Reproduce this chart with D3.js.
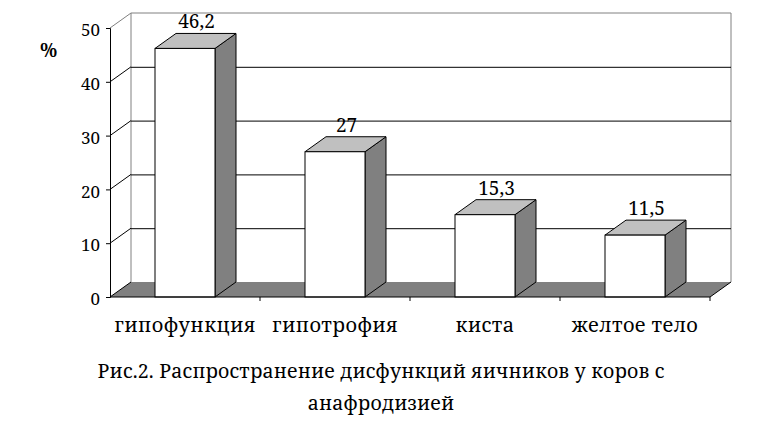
<!DOCTYPE html>
<html>
<head>
<meta charset="utf-8">
<script src="https://cdn.jsdelivr.net/npm/d3@7"></script>
<style>
  html, body { margin: 0; padding: 0; background: #ffffff; }
  svg { display: block; }
</style>
</head>
<body>
<svg id="chart" width="770" height="430"></svg>
<script>
// ---- data ----
const categories = ["гипофункция", "гипотрофия", "киста", "желтое тело"];
const values = [46.2, 27, 15.3, 11.5];
const yTicks = [0, 10, 20, 30, 40, 50];
const yLabel = "%";
const captionLines = ["Рис.2. Распространение дисфункций яичников у коров с", "анафродизией"];

// ---- layout ----
const FONT = "'Noto Serif', 'DejaVu Serif', serif";
const svg = d3.select("#chart");
const x0 = 110, x1 = 710;          // front plane horizontal extent
const yBottom = 297, yTop = 28;    // front plane vertical extent
const dx = 21, dy = -15;           // 3D depth offset

const x = d3.scaleBand().domain(categories).range([x0, x1])
  .paddingInner(0.6).paddingOuter(0.3);
const xCat = d3.scaleBand().domain(categories).range([x0, x1]).padding(0);
const y = d3.scaleLinear().domain([0, 50]).range([yBottom, yTop]);
const fmt = v => String(v).replace(".", ",");

const grey = "#808080", light = "#c0c0c0";

// back wall
const wall = svg.append("g");
wall.append("rect")
  .attr("x", x0 + dx).attr("y", y(50) + dy)
  .attr("width", x1 - x0).attr("height", y(0) - y(50))
  .attr("fill", "#fff");
wall.append("path")
  .attr("d", `M${x0 + dx},${y(0) + dy}V${y(50) + dy}H${x1 + dx}V${y(0) + dy}`)
  .attr("fill", "none").attr("stroke", grey).attr("stroke-width", 1);
wall.append("line")
  .attr("x1", x0).attr("y1", y(50)).attr("x2", x0 + dx).attr("y2", y(50) + dy)
  .attr("stroke", grey);

// gridlines (back wall + left wall diagonals)
const gridTicks = yTicks.filter(t => t > 0 && t < 50);
wall.selectAll(".gback").data(gridTicks).join("line")
  .attr("class", "gback")
  .attr("x1", x0 + dx).attr("x2", x1 + dx)
  .attr("y1", d => y(d) + dy + 0.5).attr("y2", d => y(d) + dy + 0.5)
  .attr("stroke", "#000");
wall.selectAll(".gside").data(gridTicks).join("line")
  .attr("class", "gside")
  .attr("x1", x0).attr("y1", d => y(d))
  .attr("x2", x0 + dx).attr("y2", d => y(d) + dy)
  .attr("stroke", "#000");

// floor
svg.append("path")
  .attr("d", `M${x0},${y(0)}L${x1},${y(0)}L${x1 + dx},${y(0) + dy}L${x0 + dx},${y(0) + dy}Z`)
  .attr("fill", grey).attr("stroke", "none");
svg.append("line")
  .attr("x1", x0).attr("y1", y(0)).attr("x2", x0 + dx).attr("y2", y(0) + dy)
  .attr("stroke", "#000");
svg.append("line")
  .attr("x1", x1).attr("y1", y(0)).attr("x2", x1 + dx).attr("y2", y(0) + dy)
  .attr("stroke", "#000");

// bars
const data = categories.map((c, i) => ({ c, v: values[i] }));
const bars = svg.selectAll(".bar").data(data).join("g").attr("class", "bar");
const bw = x.bandwidth();
bars.append("path") // side face
  .attr("d", d => {
    const bx = x(d.c) + bw, t = y(d.v), b = y(0);
    return `M${bx},${t}L${bx + dx},${t + dy}L${bx + dx},${b + dy}L${bx},${b}Z`;
  })
  .attr("fill", grey).attr("stroke", "#000").attr("stroke-linejoin", "round");
bars.append("path") // top face
  .attr("d", d => {
    const bx = x(d.c), t = y(d.v);
    return `M${bx},${t}L${bx + dx},${t + dy}L${bx + bw + dx},${t + dy}L${bx + bw},${t}Z`;
  })
  .attr("fill", light).attr("stroke", "#000").attr("stroke-linejoin", "round");
bars.append("rect") // front face
  .attr("x", d => x(d.c)).attr("y", d => y(d.v))
  .attr("width", bw).attr("height", d => y(0) - y(d.v))
  .attr("fill", "#fff").attr("stroke", "#000");

// y axis
const yAxis = svg.append("g")
  .attr("transform", `translate(${x0},0)`)
  .call(d3.axisLeft(y).tickValues(yTicks).tickSize(4).tickPadding(6).tickFormat(d3.format("d")));
yAxis.attr("font-family", null).attr("font-size", null);
yAxis.select(".domain").attr("stroke", "#000");
yAxis.selectAll(".tick line").attr("stroke", "#000");
yAxis.selectAll(".tick text")
  .style("font-family", FONT).style("font-size", "17px")
  .attr("dy", "0.45em").attr("fill", "#000");

// x axis (front floor edge with category boundary ticks)
const xAxis = svg.append("g")
  .attr("transform", `translate(0,${yBottom})`);
xAxis.append("line").attr("x1", x0).attr("x2", x1).attr("y1", 0).attr("y2", 0).attr("stroke", "#000");
const bounds = categories.map(c => xCat(c) + xCat.bandwidth());
xAxis.selectAll(".xt").data(bounds).join("line")
  .attr("class", "xt")
  .attr("x1", d => d).attr("x2", d => d).attr("y1", 0).attr("y2", 4)
  .attr("stroke", "#000");
xAxis.selectAll(".xl").data(categories).join("text")
  .attr("class", "xl")
  .attr("x", d => xCat(d) + xCat.bandwidth() / 2)
  .attr("y", 35)
  .attr("text-anchor", "middle")
  .style("font-family", FONT).style("font-size", "20px")
  .attr("letter-spacing", 0.4)
  .text(d => d);

// value labels
svg.selectAll(".vl").data(data).join("text")
  .attr("class", "vl")
  .attr("x", d => x(d.c) + bw / 2 + dx / 2 + 1)
  .attr("y", d => y(d.v) - 20)
  .attr("text-anchor", "middle")
  .style("font-family", FONT).style("font-size", "19px")
  .text(d => fmt(d.v));

// y label
svg.append("text")
  .attr("x", 40).attr("y", 57)
  .style("font-family", FONT).style("font-size", "19px").style("font-weight", "bold")
  .text(yLabel);

// caption
svg.selectAll(".cap").data(captionLines).join("text")
  .attr("class", "cap")
  .attr("x", 381)
  .attr("y", (d, i) => 378 + i * 32)
  .attr("text-anchor", "middle")
  .style("font-family", FONT).style("font-size", "19.5px")
  .attr("letter-spacing", 0.2)
  .text(d => d);
</script>
</body>
</html>
